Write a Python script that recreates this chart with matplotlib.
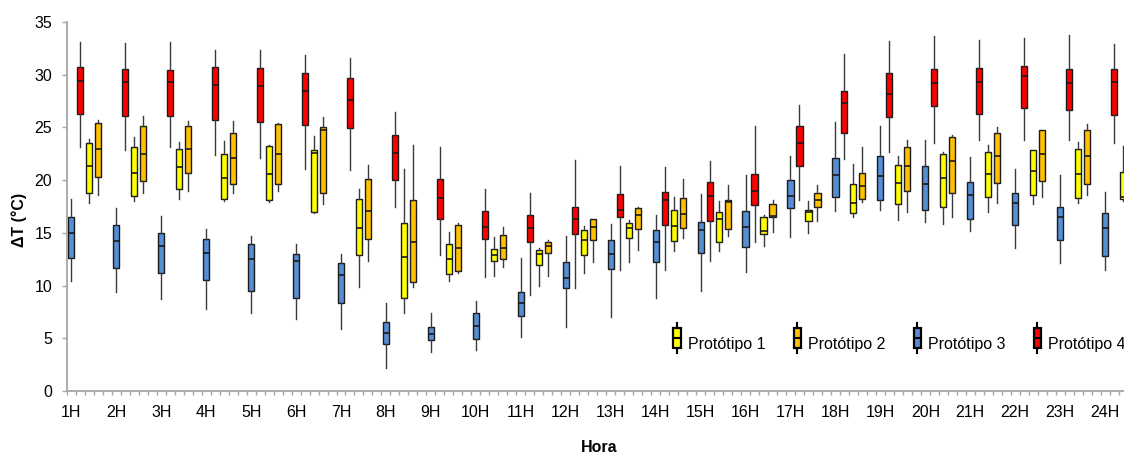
"""
Hourly box plots of the temperature difference (delta T) for four prototypes.

Each hour holds five category slots: Protótipo 3, 4, 1, 2 and an empty gap.
Values are (whisker low, Q1, median, Q3, whisker high).
"""

import matplotlib
matplotlib.use("Agg")

import matplotlib.pyplot as plt
from matplotlib.legend_handler import HandlerBase
from matplotlib.lines import Line2D
from matplotlib.patches import Patch, Rectangle

plt.rcParams["font.family"] = ["Liberation Sans", "DejaVu Sans"]

hours = [f"{h}H" for h in range(1, 25)]

# (whislo, q1, med, q3, whishi) per hour
prototipo_1 = [
    (17.8, 18.8, 21.3, 23.5, 23.9), (18.0, 18.5, 20.7, 23.1, 24.1),
    (18.2, 19.2, 21.2, 23.0, 23.6), (18.05, 18.2, 20.2, 22.5, 23.7),
    (17.95, 18.1, 20.6, 23.2, 23.3), (16.9, 17.0, 22.6, 22.9, 24.2),
    (9.86, 12.9, 15.5, 18.2, 19.2), (7.4, 8.8, 12.7, 15.97, 21.05),
    (10.4, 11.1, 12.5, 13.9, 15.1), (10.9, 12.3, 12.9, 13.5, 14.57),
    (10.0, 11.95, 12.96, 13.4, 13.6), (11.16, 12.87, 14.35, 15.3, 15.65),
    (12.27, 14.5, 15.5, 15.9, 16.2), (13.3, 14.2, 15.65, 17.2, 18.4),
    (13.3, 14.1, 16.3, 17.0, 18.0), (13.8, 14.86, 15.2, 16.5, 16.7),
    (14.95, 16.1, 16.95, 17.2, 18.0), (16.5, 16.9, 17.8, 19.6, 21.56),
    (16.25, 17.7, 19.7, 21.4, 22.3), (15.8, 17.5, 20.2, 22.45, 22.7),
    (17.0, 18.4, 20.6, 22.67, 23.3), (17.7, 18.6, 20.87, 22.9, 22.9),
    (17.86, 18.3, 20.6, 22.95, 23.6), (18.0, 18.2, 18.43, 20.8, 23.2),
]
prototipo_2 = [
    (18.6, 20.3, 23.0, 25.45, 25.7), (18.8, 19.9, 22.45, 25.1, 26.05),
    (19.0, 20.7, 23.0, 25.1, 25.6), (18.75, 19.6, 22.1, 24.5, 25.6),
    (19.0, 19.6, 22.45, 25.3, 25.4), (17.7, 18.8, 24.75, 25.0, 25.95),
    (12.3, 14.45, 17.04, 20.1, 21.4), (9.9, 10.3, 14.1, 18.1, 23.3),
    (11.2, 11.4, 13.6, 15.7, 15.9), (11.8, 12.5, 13.56, 14.8, 15.6),
    (10.9, 13.06, 13.8, 14.1, 14.3), (12.27, 14.3, 15.6, 16.3, 16.3),
    (13.4, 15.4, 16.66, 17.4, 17.5), (14.5, 15.5, 16.76, 18.27, 20.1),
    (14.7, 15.4, 17.9, 18.15, 19.5), (15.1, 16.5, 16.57, 17.7, 18.1),
    (16.1, 17.5, 18.15, 18.8, 19.5), (17.96, 18.2, 19.44, 20.7, 23.1),
    (17.0, 19.0, 21.3, 23.1, 23.8), (16.5, 18.8, 21.8, 24.1, 24.3),
    (17.8, 19.7, 22.3, 24.5, 25.07), (18.4, 19.9, 22.5, 24.75, 24.8),
    (18.6, 19.6, 22.3, 24.8, 25.35), (18.7, 19.8, 22.4, 24.9, 25.5),
]
prototipo_3 = [
    (10.4, 12.6, 14.95, 16.5, 18.2), (9.4, 11.7, 14.2, 15.7, 17.4),
    (8.7, 11.2, 13.75, 14.95, 16.6), (7.75, 10.5, 13.1, 14.4, 15.4),
    (7.4, 9.5, 12.5, 13.9, 14.7), (6.8, 8.85, 12.3, 13.0, 13.9),
    (5.9, 8.3, 11.05, 12.1, 13.0), (2.2, 4.5, 5.5, 6.5, 8.3),
    (3.73, 4.84, 5.37, 6.1, 7.43), (3.9, 4.9, 6.17, 7.37, 8.57),
    (5.15, 7.15, 8.38, 9.4, 12.6), (6.1, 9.8, 10.7, 12.2, 14.7),
    (7.0, 11.6, 13.0, 14.3, 15.8), (8.85, 12.2, 14.1, 15.3, 16.66),
    (9.5, 13.06, 15.24, 16.0, 18.65), (11.25, 13.7, 15.6, 17.04, 20.45),
    (14.6, 17.4, 18.5, 20.0, 22.3), (17.1, 18.4, 20.5, 22.07, 25.5),
    (17.2, 18.1, 20.4, 22.3, 25.1), (16.06, 17.2, 19.6, 21.37, 23.8),
    (15.2, 16.3, 18.6, 19.8, 22.2), (13.56, 15.74, 17.86, 18.75, 21.1),
    (12.1, 14.35, 16.5, 17.5, 20.5), (11.5, 12.77, 15.46, 16.9, 18.84),
]
prototipo_4 = [
    (23.1, 26.3, 29.4, 30.7, 33.1), (22.9, 26.1, 29.3, 30.5, 33.0),
    (23.1, 26.1, 29.3, 30.45, 33.1), (22.4, 25.7, 29.0, 30.7, 32.3),
    (22.1, 25.5, 28.9, 30.6, 32.3), (21.1, 25.2, 28.45, 30.2, 31.9),
    (21.0, 24.9, 27.6, 29.65, 31.55), (17.45, 20.0, 22.6, 24.3, 26.5),
    (12.9, 16.3, 18.3, 20.1, 23.1), (10.8, 14.45, 15.6, 17.07, 19.16),
    (9.1, 14.1, 15.5, 16.7, 18.8), (9.8, 14.86, 16.3, 17.5, 21.9),
    (11.5, 16.47, 17.2, 18.65, 21.3), (11.5, 15.7, 18.15, 18.9, 21.2),
    (12.3, 16.1, 18.5, 19.8, 21.8), (14.1, 17.6, 19.0, 20.55, 25.1),
    (18.1, 21.3, 23.55, 25.1, 27.1), (22.0, 24.47, 27.35, 28.5, 32.0),
    (22.7, 25.96, 28.2, 30.2, 33.2), (23.5, 27.06, 29.2, 30.5, 33.67),
    (23.8, 26.24, 29.3, 30.6, 33.3), (23.8, 26.8, 29.9, 30.8, 33.45),
    (23.8, 26.7, 29.2, 30.5, 33.8), (23.5, 26.2, 29.28, 30.5, 32.94),
]

labels = ["Protótipo 1", "Protótipo 2", "Protótipo 3", "Protótipo 4"]
colors = ["#ffff00", "#ffc000", "#558ed5", "#ff0000"]
series = [prototipo_1, prototipo_2, prototipo_3, prototipo_4]
slot = [2, 3, 0, 1]  # slot within each hour group (5 slots per hour)


class BoxIconHandler(HandlerBase):
    def create_artists(self, legend, orig_handle, xdescent, ydescent,
                       width, height, fontsize, trans):
        cx = width / 2 - xdescent
        cy = height / 2 - ydescent + 3.5
        bw, bh, nub = 5.2, 15.0, 3.0
        whisk = Line2D([cx, cx], [cy - bh / 2 - nub, cy + bh / 2 + nub],
                       color="black", lw=1.5, transform=trans)
        box = Rectangle((cx - bw / 2, cy - bh / 2), bw, bh,
                        facecolor=orig_handle.get_facecolor(),
                        edgecolor="black", lw=1.6, transform=trans)
        med = Line2D([cx - bw / 2, cx + bw / 2], [cy, cy],
                     color="black", lw=1.5, transform=trans)
        return [whisk, box, med]


W, H = 1124, 454
fig = plt.figure(figsize=(W / 100, H / 100), dpi=100)
ax = fig.add_axes([66.8 / W, 63 / H, 1078.8 / W, 369 / H])

for data, c, k in zip(series, colors, slot):
    stats = [
        dict(whislo=lo, q1=q1, med=med, q3=q3, whishi=hi)
        for lo, q1, med, q3, hi in data
    ]
    pos = [5 * h + k for h in range(len(data))]
    ax.bxp(
        stats,
        positions=pos,
        widths=0.68,
        patch_artist=True,
        showcaps=False,
        showfliers=False,
        manage_ticks=False,
        boxprops=dict(facecolor=c, edgecolor="#1a1a1a", linewidth=1.0),
        medianprops=dict(color="#1a1a1a", linewidth=1.2),
        whiskerprops=dict(color="#3a3a3a", linewidth=1.0),
    )

ax.set_xlim(-0.5, 5 * len(hours) - 0.5)
ax.set_ylim(0, 35)
ax.set_yticks(range(0, 36, 5))

ax.set_xticks([i - 0.5 for i in range(5 * len(hours) + 1)])
ax.set_xticklabels([])
ax.set_xticks([5 * h for h in range(len(hours))], minor=True)
ax.set_xticklabels(hours, minor=True)

for s in ("top", "right"):
    ax.spines[s].set_visible(False)
for s in ("left", "bottom"):
    ax.spines[s].set_color("#a6a6a6")
    ax.spines[s].set_linewidth(1.3)

ax.tick_params(axis="y", length=3.6, width=1.0, color="#a6a6a6",
               pad=7, labelsize=11.5)
ax.tick_params(axis="x", which="major", length=3.0, width=1.0,
               color="#a6a6a6")
ax.tick_params(axis="x", which="minor", length=0, pad=10, labelsize=11.5)

ax.set_ylabel("ΔT (°C)", fontsize=11.5, fontweight="bold")
ax.yaxis.set_label_coords(-0.0369, 0.463)
ax.set_xlabel("Hora", fontsize=11.5, fontweight="bold")
ax.xaxis.set_label_coords(0.4933, -0.133)

handles = [Patch(facecolor=c, label=l) for c, l in zip(colors, labels)]
ax.legend(
    handles=handles,
    handler_map={Patch: BoxIconHandler()},
    loc="center left",
    bbox_to_anchor=(673 / W, (H - 344) / H),
    bbox_transform=fig.transFigure,
    ncol=4,
    frameon=False,
    borderpad=0,
    borderaxespad=0,
    handlelength=0.5,
    handletextpad=0.45,
    columnspacing=1.72,
    fontsize=11.5,
)

fig.savefig("out.png", dpi=100)
